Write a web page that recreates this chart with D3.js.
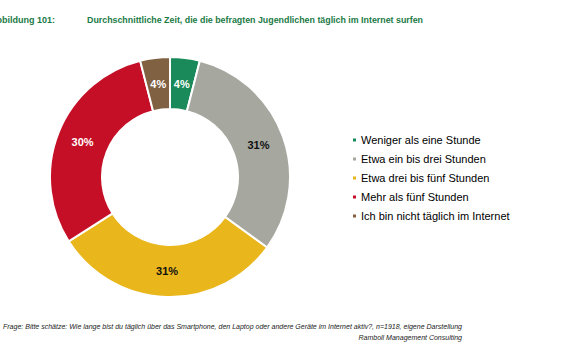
<!DOCTYPE html>
<html><head><meta charset="utf-8">
<script src="https://cdn.jsdelivr.net/npm/d3@7/dist/d3.min.js"></script>
<style>body{margin:0;background:#fff}svg{display:block}</style>
</head><body>
<svg id="c" width="580" height="357"></svg>
<script>
const categories = ["Weniger als eine Stunde","Etwa ein bis drei Stunden","Etwa drei bis fünf Stunden","Mehr als fünf Stunden","Ich bin nicht täglich im Internet"];
const values = [4, 31, 31, 30, 4];
const colors = ["#1b8a5a","#a6a79f","#e9b61c","#c50f26","#806142"];
const labelColors = ["#fff","#111","#111","#fff","#fff"];
const titleLabel = "Abbildung 101:";
const titleText = "Durchschnittliche Zeit, die die befragten Jugendlichen täglich im Internet surfen";
const footLines = ["Frage: Bitte schätze: Wie lange bist du täglich über das Smartphone, den Laptop oder andere Geräte im Internet aktiv?, n=1918, eigene Darstellung","Ramboll Management Consulting"];

const svg = d3.select("#c");
const font = "Arial, 'Liberation Sans', sans-serif";

svg.append("text").attr("x", 55).attr("y", 23).attr("text-anchor","end").attr("font-family", font).attr("font-weight","bold")
  .attr("font-size", 9).attr("fill", "#1a7a46").text(titleLabel);
svg.append("text").attr("x", 87).attr("y", 23).attr("font-family", font).attr("font-weight","bold")
  .attr("font-size", 9).attr("textLength", 336).attr("lengthAdjust","spacingAndGlyphs")
  .attr("fill", "#1a7a46").text(titleText);

const cx = 170, cy = 177, rO = 120, rI = 68;
const pie = d3.pie().sort(null).value(d => d)(values);
const arc = d3.arc().innerRadius(rI).outerRadius(rO);
const g = svg.append("g").attr("transform", `translate(${cx},${cy})`);
g.selectAll("path").data(pie).join("path").attr("d", arc)
  .attr("fill", (d,i) => colors[i]).attr("stroke", "#fff").attr("stroke-width", 2);
g.selectAll("text").data(pie).join("text")
  .attr("transform", d => `translate(${arc.centroid(d)})`)
  .attr("text-anchor","middle").attr("dy","0.36em")
  .attr("font-family", font).attr("font-weight","bold").attr("font-size", 11)
  .attr("fill", (d,i) => labelColors[i]).text(d => d.data + "%");

const leg = svg.append("g");
const y = d3.scalePoint().domain(categories).range([140, 216]);
leg.selectAll("rect").data(categories).join("rect")
  .attr("x", 353).attr("y", d => y(d) - 1.5).attr("width", 3).attr("height", 3)
  .attr("fill", (d,i) => colors[i]);
leg.selectAll("text").data(categories).join("text")
  .attr("x", 361).attr("y", d => y(d)).attr("dy","0.36em")
  .attr("font-family", font).attr("font-size", 11).attr("fill", "#000").text(d => d);

svg.append("text").attr("x", 3).attr("y", 329)
  .attr("font-family", font).attr("font-style","italic").attr("font-size", 7)
  .attr("textLength", 459).attr("lengthAdjust","spacingAndGlyphs")
  .attr("fill","#222").text(footLines[0]);
svg.append("text").attr("x", 462).attr("y", 340).attr("text-anchor","end")
  .attr("font-family", font).attr("font-style","italic").attr("font-size", 7).attr("fill","#222").text(footLines[1]);
</script>
</body></html>
